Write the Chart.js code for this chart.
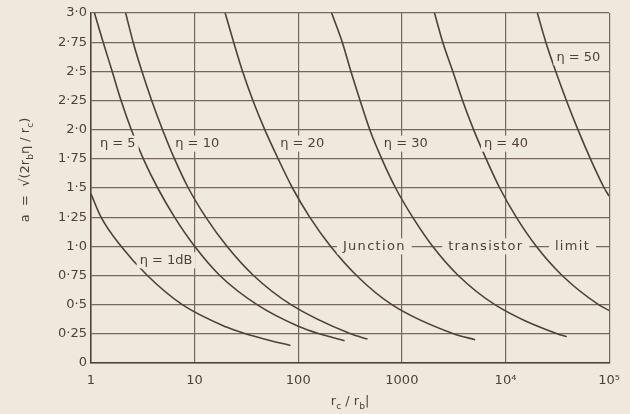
<!DOCTYPE html>
<html>
<head>
<meta charset="utf-8">
<script src="https://cdn.jsdelivr.net/npm/chart.js@4.4.1/dist/chart.umd.min.js"></script>
<style>
  html, body { margin: 0; padding: 0; background: #eee9dc; }
  #wrap { width: 630px; height: 414px; }
</style>
</head>
<body>
<div id="wrap"><canvas id="chart" width="630" height="414"></canvas></div>
<script>
// Readings from the plot: [rc/rb, a]
const curve1dB = [[1, 1.45], [1.25, 1.25], [1.95, 1.0], [3.5, 0.75], [7.6, 0.5], [20, 0.31], [31, 0.25], [50, 0.2], [84, 0.15]];
const curve5 = [[1.08, 3.0], [1.31, 2.75], [1.6, 2.5], [1.95, 2.25], [2.45, 2.0], [3.2, 1.75], [4.4, 1.5], [6.4, 1.25], [10, 1.0], [17.5, 0.75], [40, 0.5], [100, 0.315], [160, 0.25], [280, 0.19]];
const curve10 = [[2.16, 3.0], [2.55, 2.75], [3.1, 2.5], [3.85, 2.25], [4.9, 2.0], [6.4, 1.75], [8.7, 1.5], [12.8, 1.25], [20.5, 1.0], [37, 0.75], [85, 0.5], [320, 0.25], [466, 0.205]];
const curve20 = [[19.7, 3.0], [23.8, 2.75], [29, 2.5], [36.5, 2.25], [47.5, 2.0], [64, 1.75], [88, 1.5], [129, 1.25], [205, 1.0], [365, 0.75], [800, 0.5], [3150, 0.25], [5100, 0.2]];
const curve30 = [[210, 3.0], [266, 2.75], [322, 2.5], [395, 2.25], [490, 2.0], [640, 1.75], [870, 1.5], [1270, 1.25], [1980, 1.0], [3500, 0.75], [7900, 0.5], [31500, 0.25], [39000, 0.225]];
const curve40 = [[2065, 3.0], [2480, 2.75], [3100, 2.5], [3850, 2.25], [4920, 2.0], [6500, 1.75], [8800, 1.5], [12700, 1.25], [19800, 1.0], [35200, 0.75], [79000, 0.5], [100000, 0.45]];
const curve50 = [[20300, 3.0], [24500, 2.75], [30500, 2.5], [38700, 2.25], [50000, 2.0], [66000, 1.75], [89700, 1.5], [100000, 1.43]];

const curveNames = ['η = 1dB', 'η = 5', 'η = 10', 'η = 20', 'η = 30', 'η = 40', 'η = 50'];
const curves = [curve1dB, curve5, curve10, curve20, curve30, curve40, curve50];

const xTickValues = [1, 10, 100, 1000, 10000, 100000];
const xTickLabels = ['1', '10', '100', '1000', '10⁴', '10⁵'];
const yTickLabels = ['0', '0·25', '0·5', '0·75', '1·0', '1·25', '1·5', '1·75', '2·0', '2·25', '2·5', '2·75', '3·0'];

// where the in-plot captions sit (data coords, left edge / middle)
const curveCaptions = [
    ['η = 5', 1.22, 1.88], ['η = 10', 6.5, 1.88], ['η = 20', 67, 1.88],
    ['η = 30', 670, 1.88], ['η = 40', 6200, 1.88], ['η = 50', 31000, 2.62],
    ['η = 1dB', 2.95, 0.88]
];
const limitCaptions = [['Junction', 270, 1.0], ['transistor', 2800, 1.0], ['limit', 30000, 1.0]];

const paper = '#eee9dc';
const ink = '#4f4138';
const gridInk = '#75685e';
const FONT = '"DejaVu Sans", sans-serif';

// draw a run of text pieces, some of them subscript
function drawRich(ctx, parts, x, y, size) {
    let cx = x;
    parts.forEach(p => {
        const s = p.sub ? size * 0.7 : size;
        ctx.font = s + 'px ' + FONT;
        ctx.fillText(p.t, cx, p.sub ? y + size * 0.3 : y);
        cx += ctx.measureText(p.t).width;
    });
}
function richWidth(ctx, parts, size) {
    let w = 0;
    parts.forEach(p => {
        ctx.font = (p.sub ? size * 0.7 : size) + 'px ' + FONT;
        w += ctx.measureText(p.t).width;
    });
    return w;
}

function boxedText(ctx, txt, x, y, pad) {
    const w = ctx.measureText(txt).width;
    ctx.fillStyle = paper;
    ctx.fillRect(x - pad, y - 8, w + pad * 2, 16);
    ctx.fillStyle = ink;
    ctx.fillText(txt, x, y);
}

const decor = {
    id: 'decor',
    beforeDraw(chart) {
        const ctx = chart.ctx;
        ctx.save();
        ctx.fillStyle = paper;
        ctx.fillRect(0, 0, chart.width, chart.height);
        ctx.restore();
    },
    afterDatasetsDraw(chart) {
        const ctx = chart.ctx;
        const xs = chart.scales.x, ys = chart.scales.y;
        ctx.save();
        ctx.textBaseline = 'middle';
        ctx.textAlign = 'left';

        ctx.font = '13px ' + FONT;
        curveCaptions.forEach(c => {
            boxedText(ctx, c[0], xs.getPixelForValue(c[1]), ys.getPixelForValue(c[2]), 3);
        });

        ctx.font = '13px ' + FONT;
        ctx.letterSpacing = '1.3px';
        limitCaptions.forEach(c => {
            boxedText(ctx, c[0], xs.getPixelForValue(c[1]), ys.getPixelForValue(c[2]), 6);
        });
        ctx.letterSpacing = '0px';

        // x axis title: rc / rb|
        ctx.fillStyle = ink;
        ctx.textBaseline = 'alphabetic';
        const xt = [{ t: 'r' }, { t: 'c', sub: true }, { t: ' / r' }, { t: 'b', sub: true }, { t: '|' }];
        const cx = (chart.chartArea.left + chart.chartArea.right) / 2;
        drawRich(ctx, xt, cx - richWidth(ctx, xt, 13) / 2, 405, 13);

        // y axis title
        const yt = [{ t: 'a  =  √(2r' }, { t: 'b', sub: true }, { t: 'η / r' }, { t: 'c', sub: true }, { t: ')' }];
        ctx.translate(29, 170);
        ctx.rotate(-Math.PI / 2);
        drawRich(ctx, yt, -richWidth(ctx, yt, 13) / 2, 0, 13);
        ctx.restore();
    }
};

new Chart(document.getElementById('chart'), {
    type: 'line',
    data: {
        datasets: curves.map((c, i) => ({
            label: curveNames[i],
            data: c.map(p => ({ x: p[0], y: p[1] })),
            borderColor: ink,
            borderWidth: 1.6,
            pointRadius: 0,
            fill: false,
            cubicInterpolationMode: 'monotone'
        }))
    },
    options: {
        responsive: false,
        animation: false,
        devicePixelRatio: 1,
        layout: { padding: { top: 13, right: 10, left: 0, bottom: 0 } },
        plugins: { legend: { display: false }, tooltip: { enabled: false } },
        scales: {
            x: {
                type: 'logarithmic',
                min: 1,
                max: 100000,
                afterBuildTicks: s => { s.ticks = xTickValues.map(v => ({ value: v })); },
                afterFit: s => { s.height = 51; },
                ticks: {
                    callback: (v, i) => xTickLabels[i],
                    autoSkip: false,
                    maxRotation: 0,
                    padding: 10,
                    color: ink,
                    font: { family: FONT, size: 13 }
                },
                grid: { color: gridInk, lineWidth: 1.2, drawTicks: false },
                border: { color: ink, width: 1.5 }
            },
            y: {
                min: 0,
                max: 3,
                afterFit: s => { s.width = 91; },
                ticks: {
                    stepSize: 0.25,
                    callback: (v, i) => yTickLabels[i],
                    padding: 4,
                    color: ink,
                    font: { family: FONT, size: 13 }
                },
                grid: { color: gridInk, lineWidth: 1.2, drawTicks: false },
                border: { color: ink, width: 1.5 }
            }
        }
    },
    plugins: [decor]
});
</script>
</body>
</html>
